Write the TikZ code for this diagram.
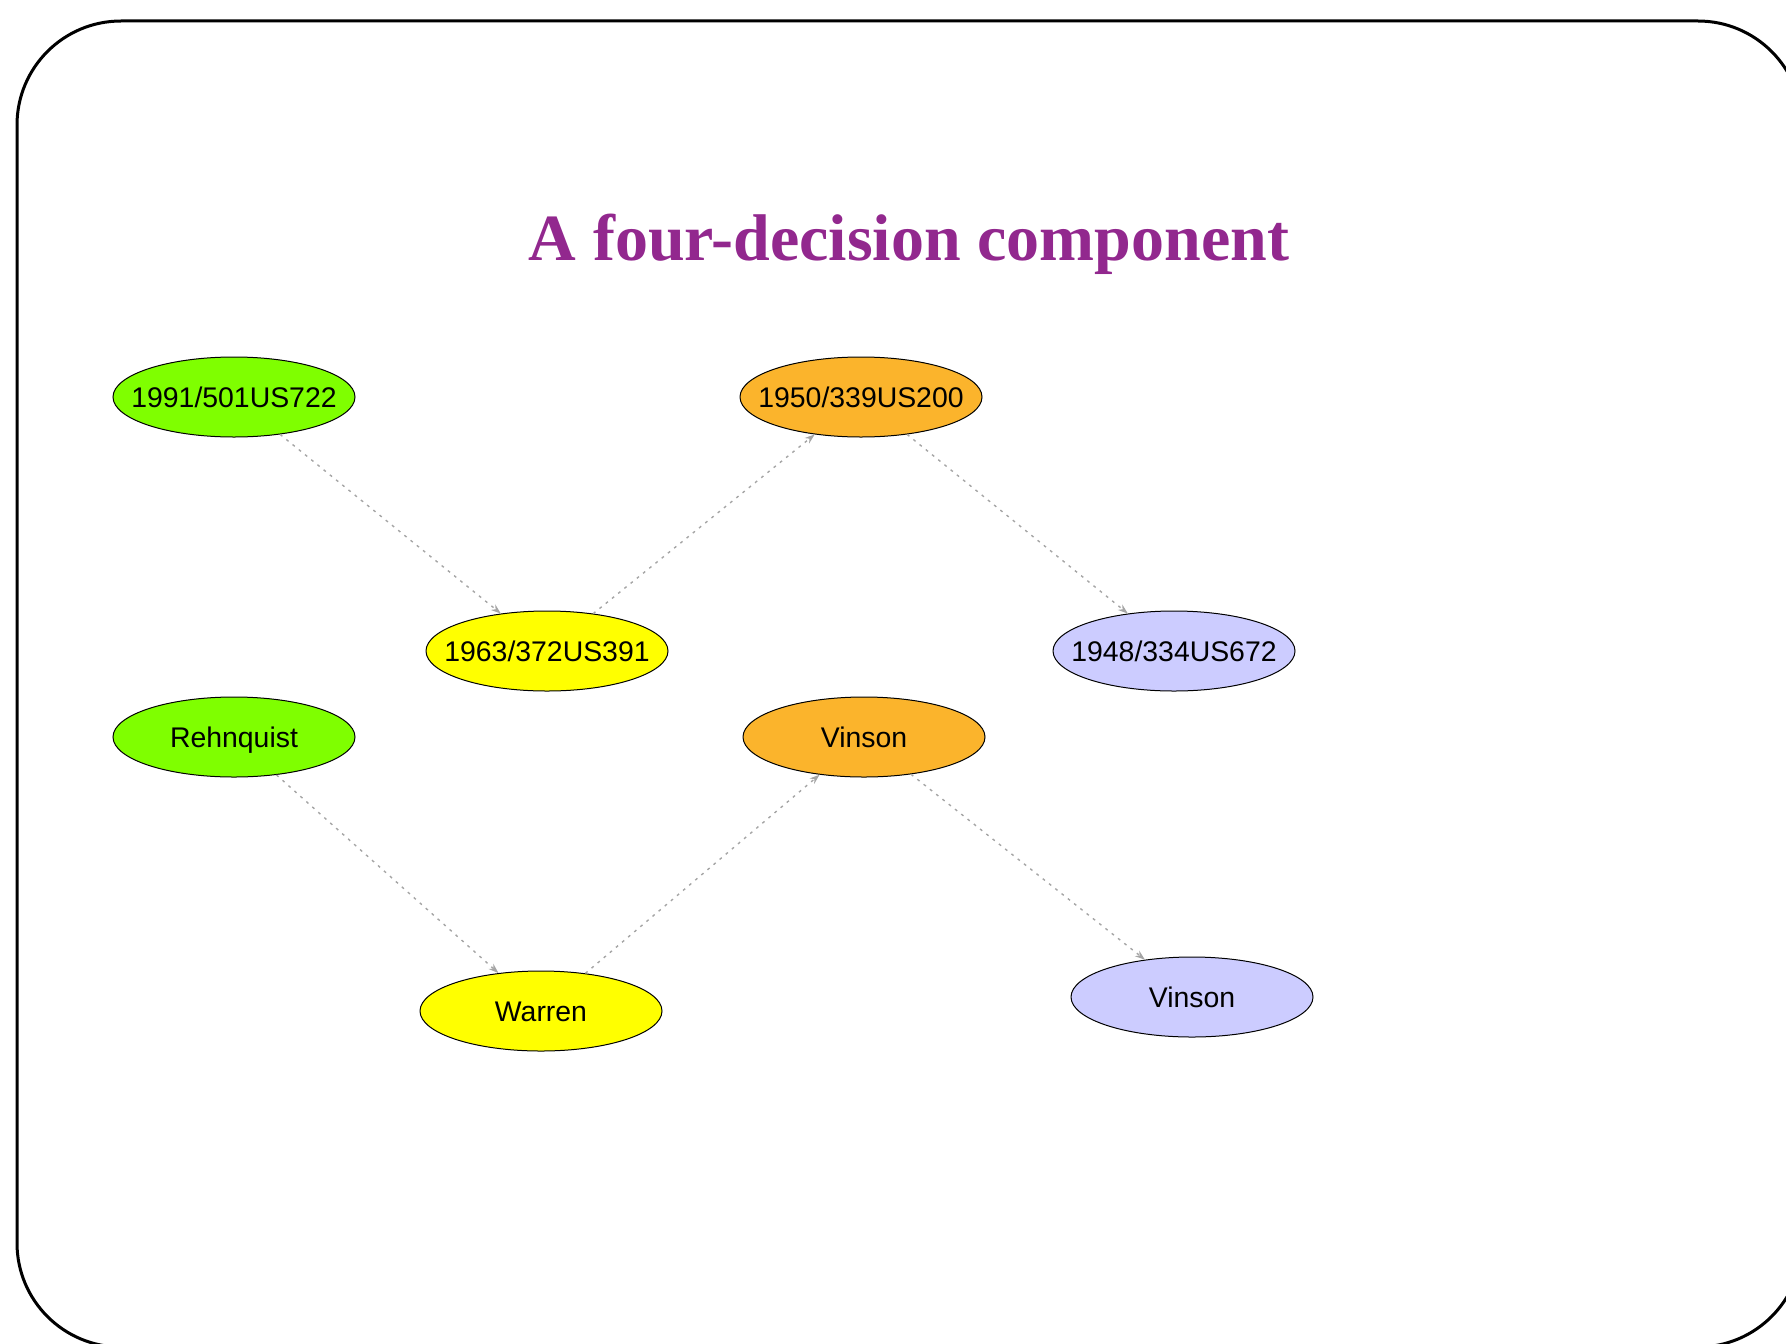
\documentclass[tikz,border=0pt]{standalone}
\usepackage{fontspec}
\setmainfont{Liberation Serif}
\setsansfont{Liberation Sans}
\usetikzlibrary{shapes.geometric,arrows.meta}

\definecolor{titlepurple}{RGB}{146,40,142}
\definecolor{casegreen}{RGB}{127,255,0}
\definecolor{caseorange}{RGB}{251,180,44}
\definecolor{caseyellow}{RGB}{255,255,0}
\definecolor{caselavender}{RGB}{204,204,255}
\definecolor{citegray}{RGB}{165,165,165}

\tikzset{
  case/.style={ellipse,draw,line width=0.5pt,minimum width=121pt,minimum height=40pt,
    inner xsep=-25pt,inner ysep=0pt,text height=10.2pt,text depth=0pt,
    font=\sffamily\fontsize{14.2}{16}\selectfont},
  cite/.style={draw=citegray,line width=0.7pt,dash pattern=on 1.4pt off 2.6pt,
    -{Stealth[length=5pt,width=3.5pt,fill=citegray]}}
}

\begin{document}
\begin{tikzpicture}[x=0.5pt,y=0.5pt,yscale=-1]
\clip (0,0) rectangle (1786,1343);
\useasboundingbox (0,0) rectangle (1786,1343);

%Shape: slide frame
\draw[line width=1.5pt,rounded corners=52pt] (17,21) rectangle (1802,1347);

% Text Node
\node[anchor=base,text=titlepurple,font=\bfseries\fontsize{33}{38}\selectfont] (title) at (909,260) {A four-decision component};

% decisions
\node[case,fill=casegreen] (d1991) at (234,397) {1991/501US722};
\node[case,fill=caseorange] (d1950) at (861,397) {1950/339US200};
\node[case,fill=caseyellow] (d1963) at (547,651) {1963/372US391};
\node[case,fill=caselavender] (d1948) at (1174,651) {1948/334US672};

% chief justices
\node[case,fill=casegreen] (rehnquist) at (234,737) {Rehnquist};
\node[case,fill=caseorange] (vinsonA) at (864,737) {Vinson};
\node[case,fill=caseyellow] (warren) at (541,1011) {Warren};
\node[case,fill=caselavender] (vinsonB) at (1192,997) {Vinson};

%Straight Lines
\draw[cite] (d1991) -- (d1963);
\draw[cite] (d1963) -- (d1950);
\draw[cite] (d1950) -- (d1948);
\draw[cite] (rehnquist) -- (warren);
\draw[cite] (warren) -- (vinsonA);
\draw[cite] (vinsonA) -- (vinsonB);

\end{tikzpicture}
\end{document}
